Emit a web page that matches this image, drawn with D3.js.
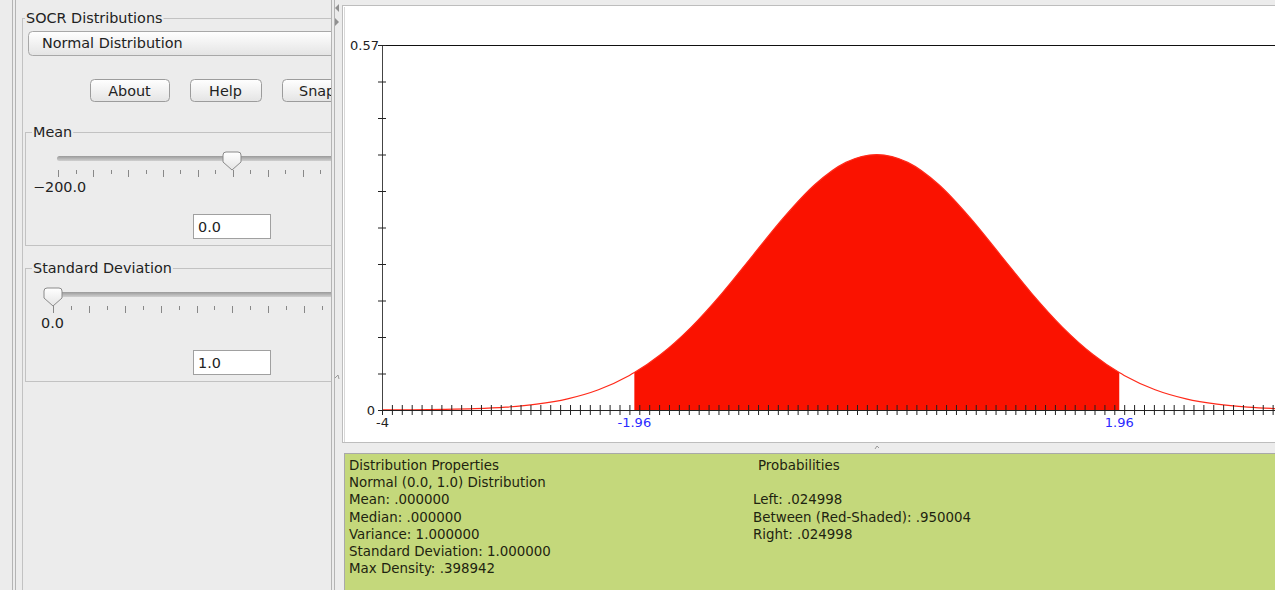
<!DOCTYPE html>
<html>
<head>
<meta charset="utf-8">
<script src="https://cdn.jsdelivr.net/npm/d3@7"></script>
<style>
  body { margin: 0; background: #ececec; overflow: hidden; }
  svg { display: block; font-family: "DejaVu Sans", sans-serif; }
</style>
</head>
<body>
<svg width="1275" height="590"></svg>
<script>
// density values
var xs = [-4, -3.75, -3.5, -3.25, -3, -2.75, -2.5, -2.25, -2, -1.96, -1.75, -1.5, -1.25, -1, -0.75, -0.5, -0.25,
          0, 0.25, 0.5, 0.75, 1, 1.25, 1.5, 1.75, 1.96, 2, 2.25, 2.5, 2.75, 3, 3.25, 3.5, 3.75, 4];
var dens = [0.0001, 0.0004, 0.0009, 0.002, 0.0044, 0.0091, 0.0175, 0.0317, 0.054, 0.0584, 0.0863, 0.1295, 0.1826, 0.242, 0.3011, 0.3521, 0.3867,
            0.3989, 0.3867, 0.3521, 0.3011, 0.242, 0.1826, 0.1295, 0.0863, 0.0584, 0.054, 0.0317, 0.0175, 0.0091, 0.0044, 0.002, 0.0009, 0.0004, 0.0001];
var shadeFrom = -1.96, shadeTo = 1.96;
var yMax = 0.57;
var xLabels = [-4, -1.96, 1.96];

var propLines = ["Distribution Properties", "Normal (0.0, 1.0) Distribution", "Mean: .000000", "Median: .000000",
                 "Variance: 1.000000", "Standard Deviation: 1.000000", "Max Density: .398942"];
var probLines = ["Left: .024998", "Between (Red-Shaded): .950004", "Right: .024998"];

var svg = d3.select("svg");
var pts = xs.map(function(x, i) { return {x: x, y: dens[i]}; });
var uiFont = 14.4;

// ---------- left control panel ----------
var defs = svg.append("defs");
var g1 = defs.append("linearGradient").attr("id", "btn").attr("x1", 0).attr("x2", 0).attr("y1", 0).attr("y2", 1);
g1.append("stop").attr("offset", "0%").attr("stop-color", "#ffffff");
g1.append("stop").attr("offset", "100%").attr("stop-color", "#e4e4e4");
var g2 = defs.append("linearGradient").attr("id", "track").attr("x1", 0).attr("x2", 0).attr("y1", 0).attr("y2", 1);
g2.append("stop").attr("offset", "0%").attr("stop-color", "#9a9a9a");
g2.append("stop").attr("offset", "100%").attr("stop-color", "#d0d0d0");
defs.append("clipPath").attr("id", "leftclip").append("rect").attr("x", 0).attr("y", 0).attr("width", 331).attr("height", 590);
defs.append("clipPath").attr("id", "plotclip").append("rect").attr("x", 345).attr("y", 8).attr("width", 930).attr("height", 432);

// window frame lines
[12, 15].forEach(function(x) {
  svg.append("line").attr("x1", x + 0.5).attr("x2", x + 0.5).attr("y1", 0).attr("y2", 590).attr("stroke", "#b4b4b4");
});
[331, 334].forEach(function(x) {
  svg.append("line").attr("x1", x + 0.5).attr("x2", x + 0.5).attr("y1", 0).attr("y2", 590).attr("stroke", "#b4b4b4");
});
svg.append("path").attr("d", "M339,4 L335,8 L339,12 Z").attr("fill", "#909090");
svg.append("path").attr("d", "M335,18 L339,22 L335,26 Z").attr("fill", "#909090");
svg.append("path").attr("d", "M335,378 L338,375 L339,379").attr("fill", "none").attr("stroke", "#999");

var left = svg.append("g").attr("clip-path", "url(#leftclip)");

function titled(x, y, w, h, label, labelX) {
  left.append("rect").attr("x", x + 0.5).attr("y", y + 0.5).attr("width", w).attr("height", h)
    .attr("fill", "none").attr("stroke", "#c2c2c2");
  var bg = left.append("rect").attr("fill", "#ececec");
  var t = left.append("text").attr("x", labelX).attr("y", y + 5).attr("font-size", uiFont).attr("fill", "#222").text(label);
  var bb = t.node().getBBox();
  bg.attr("x", bb.x - 1).attr("y", y - 2).attr("width", bb.width + 2).attr("height", 5);
}
titled(22, 18, 340, 572, "SOCR Distributions", 26);

left.append("rect").attr("x", 28.5).attr("y", 31.5).attr("width", 320).attr("height", 24).attr("rx", 4)
  .attr("fill", "url(#btn)").attr("stroke", "#a8a8a8");
left.append("text").attr("x", 42).attr("y", 48).attr("font-size", uiFont).attr("fill", "#222").text("Normal Distribution");

[["About", 90, 79], ["Help", 190, 71], ["Snapshot", 282, 90]].forEach(function(b) {
  left.append("rect").attr("x", b[1] + 0.5).attr("y", 79.5).attr("width", b[2]).attr("height", 22).attr("rx", 4)
    .attr("fill", "url(#btn)").attr("stroke", "#9c9c9c");
  left.append("text").attr("x", b[0] === "Snapshot" ? 299 : b[1] + b[2] / 2).attr("y", 95.5)
    .attr("text-anchor", b[0] === "Snapshot" ? "start" : "middle").attr("font-size", uiFont).attr("fill", "#222").text(b[0]);
});

function slider(y0, label, trackX, thumbX, tickStart, tickStep, minLabel, minLabelX, fieldY, fieldVal) {
  titled(25, y0, 330, 113, label, 33);
  left.append("rect").attr("x", trackX).attr("y", y0 + 24).attr("width", 300).attr("height", 5).attr("rx", 2.5)
    .attr("fill", "url(#track)");
  for (var i = 0; i < 16; i++) {
    var tx = tickStart + i * tickStep;
    var major = (i % 2) === 0;
    left.append("line").attr("x1", Math.round(tx) + 0.5).attr("x2", Math.round(tx) + 0.5)
      .attr("y1", y0 + 38).attr("y2", y0 + (major ? 45 : 42)).attr("stroke", "#888");
  }
  var ty = y0 + 20;
  left.append("path")
    .attr("d", "M" + (thumbX - 9) + "," + (ty + 3) + " Q" + (thumbX - 9) + "," + ty + " " + (thumbX - 6) + "," + ty +
               " L" + (thumbX + 6) + "," + ty + " Q" + (thumbX + 9) + "," + ty + " " + (thumbX + 9) + "," + (ty + 3) +
               " L" + (thumbX + 9) + "," + (ty + 10) + " L" + thumbX + "," + (ty + 18) + " L" + (thumbX - 9) + "," + (ty + 10) + " Z")
    .attr("fill", "url(#btn)").attr("stroke", "#8a8a8a");
  left.append("text").attr("x", minLabelX).attr("y", y0 + 60).attr("font-size", uiFont).attr("fill", "#222").text(minLabel);
  left.append("rect").attr("x", 193.5).attr("y", fieldY + 0.5).attr("width", 77).attr("height", 24)
    .attr("fill", "#fff").attr("stroke", "#a0a0a0");
  left.append("text").attr("x", 198).attr("y", fieldY + 17.5).attr("font-size", uiFont).attr("fill", "#222").text(fieldVal);
}
slider(132, "Mean", 57, 232, 58.3, 17.45, "\u2212200.0", 33, 214, "0.0");
slider(268, "Standard Deviation", 48, 53, 53.3, 17.9, "0.0", 41, 350, "1.0");

// ---------- plot panel ----------
svg.append("rect").attr("x", 342.5).attr("y", 5.5).attr("width", 940).attr("height", 437).attr("fill", "#fff").attr("stroke", "#bdbdbd");
svg.append("line").attr("x1", 344.5).attr("x2", 344.5).attr("y1", 7).attr("y2", 442).attr("stroke", "#d8d8d8");

var plot = svg.append("g").attr("clip-path", "url(#plotclip)");
var x = d3.scaleLinear().domain([-4, 4]).range([382, 1371.6]);
var y = d3.scaleLinear().domain([0, yMax]).range([410, 45]);

// frame top line
plot.append("line").attr("x1", 382).attr("x2", 1380).attr("y1", 45.5).attr("y2", 45.5).attr("stroke", "#111");

var shaded = pts.filter(function(p) { return p.x >= shadeFrom && p.x <= shadeTo; });
plot.append("path").datum(shaded)
  .attr("d", d3.area().x(function(d) { return x(d.x); }).y0(y(0)).y1(function(d) { return y(d.y); }).curve(d3.curveMonotoneX))
  .attr("fill", "#fa1200");
plot.append("path").datum(pts)
  .attr("d", d3.line().x(function(d) { return x(d.x); }).y(function(d) { return y(d.y); }).curve(d3.curveMonotoneX))
  .attr("fill", "none").attr("stroke", "#ff2a1a").attr("stroke-width", 1.2);

var xAxis = plot.append("g").attr("transform", "translate(0,410)")
  .call(d3.axisBottom(x).tickValues(d3.range(0, 101).map(function(i) { return -4 + i * 0.08; })).tickSize(5).tickFormat(""));
xAxis.select(".domain").attr("stroke", "#222");
xAxis.selectAll(".tick line").attr("y1", -5).attr("stroke", "#222");

var yAxis = plot.append("g").attr("transform", "translate(382,0)")
  .call(d3.axisLeft(y).tickValues(d3.range(0, 11).map(function(i) { return i * yMax / 10; })).tickSize(4).tickFormat(""));
yAxis.select(".domain").attr("stroke", "#444").attr("d", "M0.5," + y(0) + "V" + y(yMax));
yAxis.selectAll(".tick line").attr("x2", -4).attr("x1", 4).attr("stroke", "#222");

plot.append("text").attr("x", 379).attr("y", 50).attr("text-anchor", "end").attr("font-size", 13).attr("fill", "#222").text("0.57");
plot.append("text").attr("x", 375).attr("y", 415).attr("text-anchor", "end").attr("font-size", 13).attr("fill", "#222").text("0");
plot.selectAll("text.xl").data(xLabels).enter().append("text").attr("class", "xl")
  .attr("x", function(d) { return d === -4 ? 376 : x(d); }).attr("y", 427)
  .attr("text-anchor", function(d) { return d === -4 ? "start" : "middle"; }).attr("font-size", 13)
  .attr("fill", function(d) { return d === -4 ? "#222" : "#2a2aff"; })
  .text(function(d) { return d === -4 ? "-4" : d.toFixed(2); });

// splitter grip
svg.append("path").attr("d", "M875,449 L877,446 L879,448").attr("fill", "none").attr("stroke", "#999");

// ---------- properties panel ----------
svg.append("rect").attr("x", 344.5).attr("y", 453.5).attr("width", 940).attr("height", 140).attr("fill", "#c4d87b").attr("stroke", "#a9a9a9");
svg.selectAll("text.prop").data(propLines).enter().append("text").attr("class", "prop")
  .attr("x", 349).attr("y", function(d, i) { return 470 + i * 17.2; }).attr("font-size", 13.4).attr("fill", "#1e2410").text(function(d) { return d; });
svg.append("text").attr("x", 758).attr("y", 470).attr("font-size", 13.4).attr("fill", "#1e2410").text("Probabilities");
svg.selectAll("text.prob").data(probLines).enter().append("text").attr("class", "prob")
  .attr("x", 753).attr("y", function(d, i) { return 504.4 + i * 17.2; }).attr("font-size", 13.4).attr("fill", "#1e2410").text(function(d) { return d; });
</script>
</body>
</html>
